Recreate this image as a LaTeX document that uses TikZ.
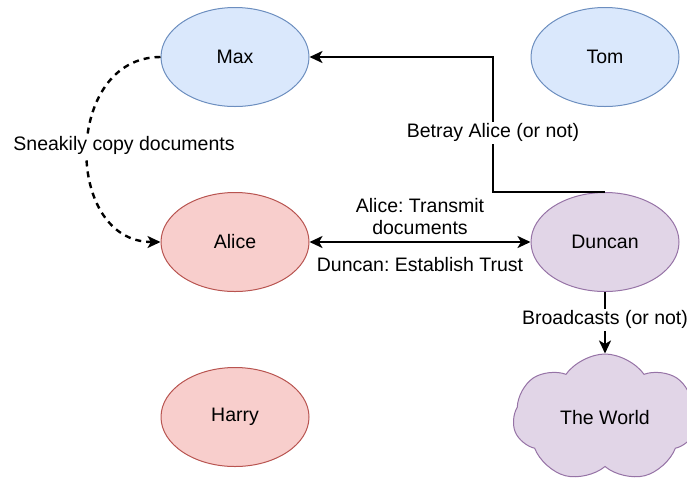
\documentclass[tikz,border=0pt]{standalone}
\usepackage{fontspec}
\setmainfont{Liberation Sans}
\usetikzlibrary{positioning}
\usetikzlibrary{arrows.meta}
\usetikzlibrary{shapes.geometric, shapes.symbols}
\usepackage{xcolor}

\definecolor{blueFill}{HTML}{DAE8FC}
\definecolor{blueLine}{HTML}{6C8EBF}
\definecolor{redFill}{HTML}{F8CECC}
\definecolor{redLine}{HTML}{B85450}
\definecolor{purpleFill}{HTML}{E1D5E7}
\definecolor{purpleLine}{HTML}{9673A6}

\begin{document}
\frenchspacing
\begin{tikzpicture}[>={Stealth[length=13pt, width=12pt, inset=3.5pt]}, node distance=370pt,
    every node/.style={font=\fontsize{19.5}{22}\selectfont},
    person/.style={draw, ellipse, line width=1pt, minimum width=148pt, minimum height=99pt, inner sep=0pt},
    blueperson/.style={person, fill=blueFill, draw=blueLine},
    redperson/.style={person, fill=redFill, draw=redLine},
    purpleperson/.style={person, fill=purpleFill, draw=purpleLine},
    link/.style={line width=2.4pt},
    edgetext/.style={fill=white, inner sep=2pt}]
    \useasboundingbox (0,0) rectangle (687pt,-483pt);
    \node[blueperson] (max) at (235pt,-57pt) {Max};
    \node[blueperson, right of=max] (tom) {Tom};
    \node[redperson, below of=max, node distance=185pt] (alice) {Alice};
    \node[purpleperson, right of=alice] (duncan) {Duncan};
    \node[redperson, below of=alice, node distance=175pt] (harry) {Harry};
    \node[draw, cloud, cloud puffs=7, cloud puff arc=110, aspect=1.4, line width=1pt, fill=purpleFill, draw=purpleLine,
        minimum width=184pt, minimum height=128pt, inner sep=0pt, below of=duncan, node distance=176pt] (world) {The World};
    % who talks to whom
    \draw[link, ->] (duncan.north) -- ++(-112pt,0) |- (max.east)
        node[edgetext, pos=0.22] {Betray Alice (or not)};
    \draw[link, <->] (alice) -- (duncan)
        node[midway, above=3pt, align=center] {Alice: Transmit\\documents}
        node[midway, below=11pt] {Duncan: Establish Trust};
    \draw[link, ->, dash pattern=on 6pt off 5pt] (max.west) to[out=180, in=180, looseness=1.35] (alice.west);
    \node[edgetext] (sneak) at (124pt,-145pt) {Sneakily copy documents};
    \draw[link, ->] (duncan) -- (world)
        node[edgetext, pos=0.45] {Broadcasts (or not)};
\end{tikzpicture}
\end{document}
